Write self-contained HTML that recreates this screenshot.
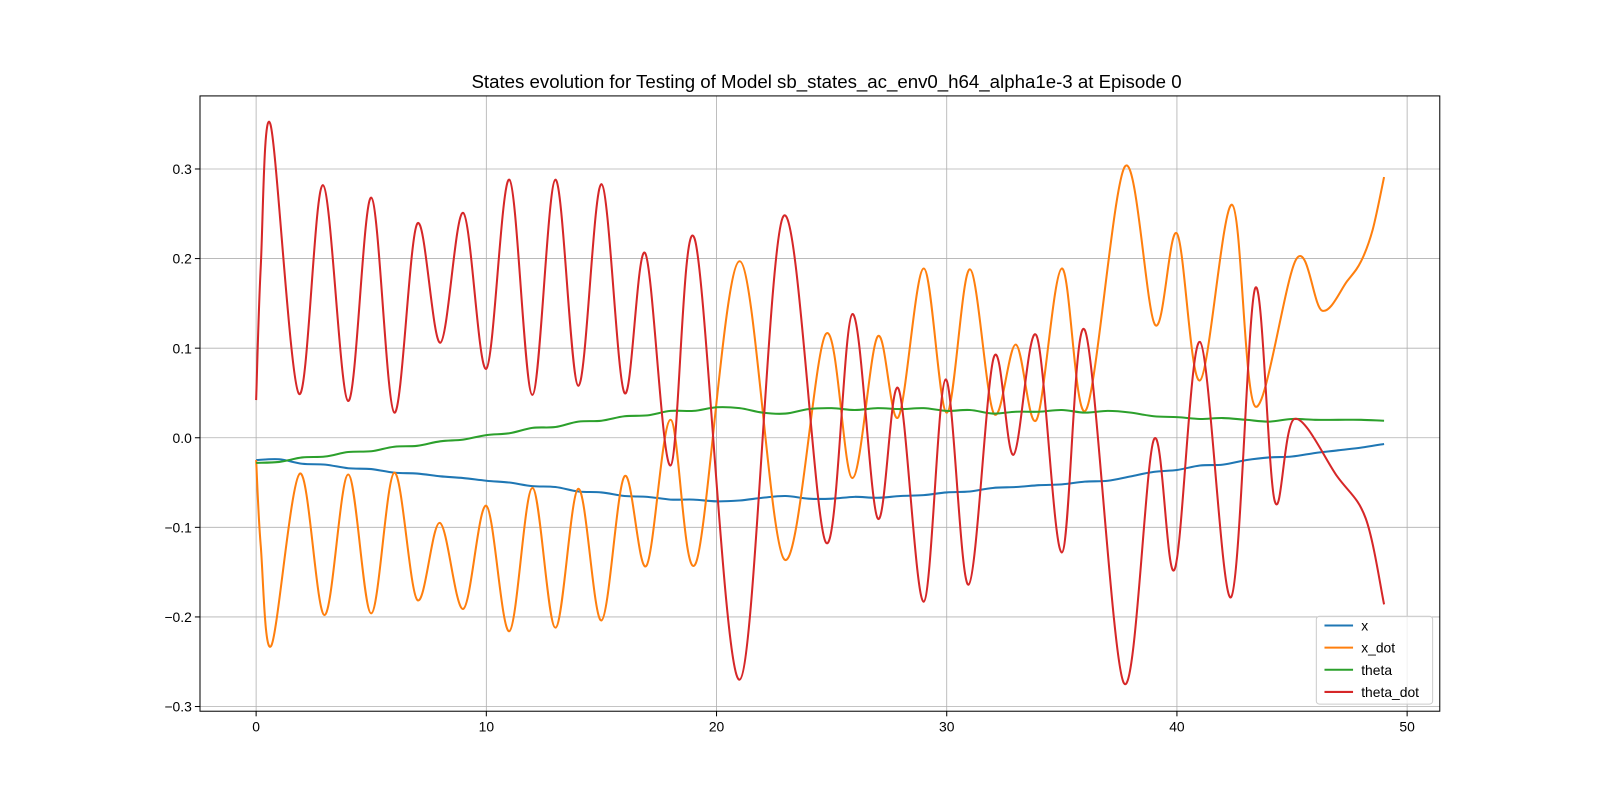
<!DOCTYPE html>
<html><head><meta charset="utf-8">
<style>
body{margin:0;background:#fff;}
svg{display:block;font-family:"Liberation Sans","DejaVu Sans",sans-serif;}
</style></head>
<body>
<svg id="chart" width="1600" height="800" viewBox="0 0 1600 800" xmlns="http://www.w3.org/2000/svg">
<rect width="1600" height="800" fill="#fff"/>
<g transform="scale(1.0204)">
<text x="810" y="86" text-anchor="middle" font-size="18.3" fill="#000">States evolution for Testing of Model sb_states_ac_env0_h64_alpha1e-3 at Episode 0</text>
<g id="grid"></g>
<g id="series"></g>
<rect x="196" y="94" width="1215" height="603" fill="none" stroke="#000" stroke-width="1"/>
<g id="ticks"></g>
<g id="legend"></g>
</g>
</svg>
<script>
const xTicks = [0,10,20,30,40,50];
const yTicks = [-0.3,-0.2,-0.1,0.0,0.1,0.2,0.3];
const yTickLabels = ["\u22120.3","\u22120.2","\u22120.1","0.0","0.1","0.2","0.3"];
const seriesNames = ["x","x_dot","theta","theta_dot"];

const xT = [0,1,2,3,4,5,6,7,8,9,10,11,12,13,14,15,16,17,18,19,20,21,22,23,24,25,26,27,28,29,30,31,32,33,34,35,36,37,38,39,40,41,42,43,44,45,46,47,48,49];
const xV = [-0.025,-0.024,-0.029,-0.03,-0.034,-0.035,-0.039,-0.04,-0.043,-0.045,-0.048,-0.05,-0.054,-0.055,-0.06,-0.061,-0.065,-0.066,-0.069,-0.069,-0.071,-0.07,-0.067,-0.065,-0.068,-0.068,-0.066,-0.067,-0.065,-0.064,-0.061,-0.06,-0.056,-0.055,-0.053,-0.052,-0.049,-0.048,-0.043,-0.038,-0.036,-0.031,-0.03,-0.025,-0.022,-0.021,-0.017,-0.014,-0.011,-0.007];
const thetaT = xT;
const thetaV = [-0.028,-0.027,-0.022,-0.021,-0.016,-0.015,-0.01,-0.009,-0.004,-0.002,0.003,0.005,0.011,0.012,0.018,0.019,0.024,0.025,0.03,0.03,0.034,0.033,0.028,0.027,0.032,0.033,0.031,0.033,0.032,0.033,0.03,0.031,0.027,0.029,0.029,0.031,0.028,0.03,0.028,0.024,0.023,0.021,0.022,0.02,0.018,0.021,0.02,0.02,0.02,0.019];
const xdotT = [0,0.2,0.66,1.9,2.97,4.0,5.0,6.0,7.0,7.98,9.0,10.0,11.0,12.0,13.0,14.0,15.0,16.0,16.95,18.0,19.1,21.0,22.95,24.75,25.9,27.0,27.9,29.0,30.0,31.0,32.05,33.0,33.9,35.0,36.05,37.75,39.05,40.0,41.0,42.4,43.4,45.2,46.3,47.4,48.0,48.5,49.0];
const xdotV = [-0.025,-0.12,-0.232,-0.04,-0.198,-0.041,-0.196,-0.039,-0.181,-0.095,-0.191,-0.076,-0.216,-0.056,-0.212,-0.057,-0.204,-0.043,-0.143,0.02,-0.14,0.197,-0.136,0.116,-0.045,0.113,0.023,0.189,0.028,0.188,0.027,0.104,0.02,0.189,0.031,0.303,0.126,0.228,0.064,0.26,0.035,0.2,0.142,0.175,0.197,0.232,0.291];
const tdotT = [0,0.2,0.62,1.86,2.9,4.0,5.0,6.0,7.0,8.0,9.0,10.0,11.0,12.0,13.0,14.0,15.0,16.0,16.9,18.0,19.05,21.0,22.9,24.75,25.9,27.0,27.9,29.0,29.95,30.95,32.05,32.9,33.9,35.0,36.0,37.7,39.0,39.9,41.0,42.35,43.4,44.25,45.1,46.96,48.2,49.0];
const tdotV = [0.042,0.19,0.35,0.049,0.282,0.041,0.268,0.028,0.239,0.106,0.251,0.077,0.288,0.048,0.288,0.058,0.283,0.05,0.206,-0.031,0.222,-0.27,0.247,-0.117,0.138,-0.09,0.055,-0.183,0.065,-0.164,0.09,-0.019,0.114,-0.128,0.12,-0.274,-0.002,-0.147,0.107,-0.178,0.167,-0.071,0.021,-0.043,-0.09,-0.186];

const colors = ["#1f77b4","#ff7f0e","#2ca02c","#d62728"];
const NS = "http://www.w3.org/2000/svg";
const L=196,R=1411,T=94,B=697;
function sx(t){return 251 + (t-0)*(1379-251)/50;}
function sy(v){return 429 - v*878;}

const grid=document.getElementById('grid');
const ticks=document.getElementById('ticks');
xTicks.forEach(t=>{
  const g=document.createElementNS(NS,'line');
  
  
  g.setAttribute('x1',sx(t));g.setAttribute('x2',sx(t));g.setAttribute('y1',T);g.setAttribute('y2',B);
  g.setAttribute('stroke','#b0b0b0');g.setAttribute('stroke-width','0.8');grid.appendChild(g);
  const k=document.createElementNS(NS,'line');
  
  
  k.setAttribute('x1',sx(t));k.setAttribute('x2',sx(t));k.setAttribute('y1',B);k.setAttribute('y2',B+5);
  k.setAttribute('stroke','#000');ticks.appendChild(k);
  const tx=document.createElementNS(NS,'text');
  
  
  tx.setAttribute('x',sx(t));tx.setAttribute('y',B+20);tx.setAttribute('text-anchor','middle');
  tx.setAttribute('font-size','13.6');tx.textContent=t;ticks.appendChild(tx);
});
yTicks.forEach((v,i)=>{
  const g=document.createElementNS(NS,'line');
  
  
  g.setAttribute('x1',L);g.setAttribute('x2',R);g.setAttribute('y1',sy(v));g.setAttribute('y2',sy(v));
  g.setAttribute('stroke','#b0b0b0');g.setAttribute('stroke-width','0.8');grid.appendChild(g);
  const k=document.createElementNS(NS,'line');
  
  
  k.setAttribute('x1',L-5);k.setAttribute('x2',L);k.setAttribute('y1',sy(v));k.setAttribute('y2',sy(v));
  k.setAttribute('stroke','#000');ticks.appendChild(k);
  const tx=document.createElementNS(NS,'text');
  
  
  tx.setAttribute('x',L-8);tx.setAttribute('y',sy(v)+5);tx.setAttribute('text-anchor','end');
  tx.setAttribute('font-size','13.6');tx.textContent=yTickLabels[i];ticks.appendChild(tx);
});

function splinePath(ts,vs){
  const p=ts.map((t,i)=>[sx(t),sy(vs[i])]);
  let d='M'+p[0][0].toFixed(1)+','+p[0][1].toFixed(1);
  for(let i=0;i<p.length-1;i++){
    const p0=p[Math.max(i-1,0)],p1=p[i],p2=p[i+1],p3=p[Math.min(i+2,p.length-1)];
    const c1=[p1[0]+(p2[0]-p0[0])/6,p1[1]+(p2[1]-p0[1])/6];
    const c2=[p2[0]-(p3[0]-p1[0])/6,p2[1]-(p3[1]-p1[1])/6];
    d+=' C'+c1[0].toFixed(1)+','+c1[1].toFixed(1)+' '+c2[0].toFixed(1)+','+c2[1].toFixed(1)+' '+p2[0].toFixed(1)+','+p2[1].toFixed(1);
  }
  return d;
}
const sData=[[xT,xV],[xdotT,xdotV],[thetaT,thetaV],[tdotT,tdotV]];
const sg=document.getElementById('series');
sData.forEach((s,i)=>{
  const p=document.createElementNS(NS,'path');
  
  
  p.setAttribute('d',splinePath(s[0],s[1]));
  p.setAttribute('fill','none');p.setAttribute('stroke',colors[i]);p.setAttribute('stroke-width','2');
  sg.appendChild(p);
});

const lg=document.getElementById('legend');
const box=document.createElementNS(NS,'rect');


box.setAttribute('x',1290);box.setAttribute('y',604);box.setAttribute('width',114);box.setAttribute('height',86);
box.setAttribute('rx',3);box.setAttribute('fill','#fff');box.setAttribute('fill-opacity','0.8');box.setAttribute('stroke','#ccc');
lg.appendChild(box);
seriesNames.forEach((n,i)=>{
  const y=613+i*21.7;
  const l=document.createElementNS(NS,'line');
  
  
  l.setAttribute('x1',1298);l.setAttribute('x2',1326);l.setAttribute('y1',y);l.setAttribute('y2',y);
  l.setAttribute('stroke',colors[i]);l.setAttribute('stroke-width','2');lg.appendChild(l);
  const t=document.createElementNS(NS,'text');
  
  
  t.setAttribute('x',1334);t.setAttribute('y',y+5);t.setAttribute('font-size','13.6');t.textContent=n;lg.appendChild(t);
});
</script>
</body></html>
